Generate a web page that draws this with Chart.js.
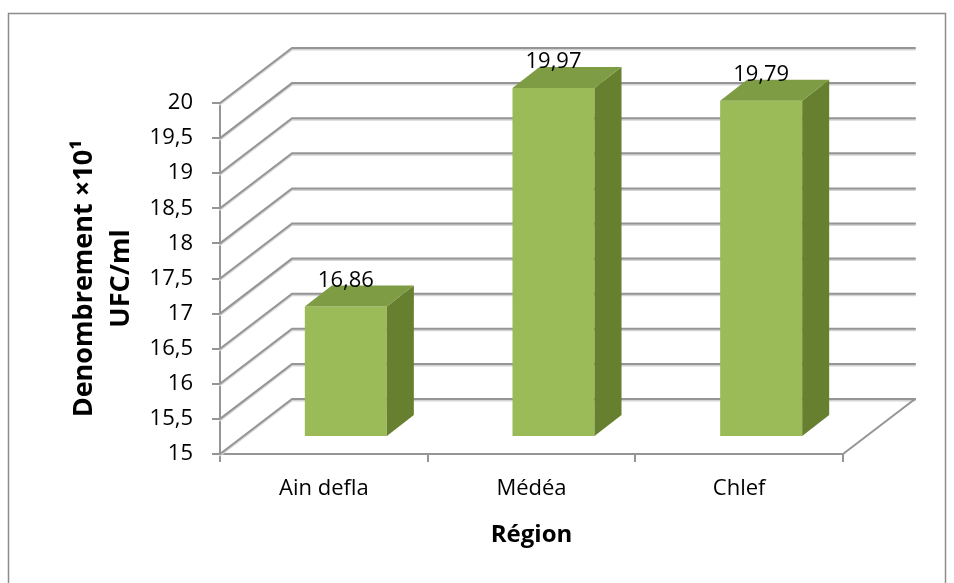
<!DOCTYPE html>
<html>
<head>
<meta charset="utf-8">
<script src="https://cdn.jsdelivr.net/npm/chart.js@4.4.1/dist/chart.umd.min.js"></script>
<style>
  html, body { margin: 0; padding: 0; background: #fff; }
  #chart { display: block; }
</style>
</head>
<body>
<canvas id="chart" width="954" height="583"></canvas>
<script>
const REGIONS = ["Ain defla", "Médéa", "Chlef"]
const COUNTS = [16.86, 19.97, 19.79]
const Y_MIN = 15
const Y_MAX = 20
const Y_STEP = 0.5

const FRONT = "#9bbb59" // olive green
const TOP = "#7e9c44"
const SIDE = "#66802f"
const GRID = "#959595"
const GRID_SHADOW = "#d4d4d4"

// oblique offsets for the fake 3d look
const BACK = { dx: 72, dy: -55 } // front plane -> back wall
const BAR_PLANE = { dx: 22, dy: -17 } // front plane -> bar front face
const BAR_DEPTH = { dx: 27, dy: -21 }

const comma = (v) => String(v).replace(".", ",")

const frame = {
  id: "frame",
  beforeDraw: (chart) => {
    const { ctx } = chart
    ctx.save()
    ctx.fillStyle = "#fff"
    ctx.fillRect(0, 0, chart.width, chart.height)
    ctx.strokeStyle = "#8c8c8c"
    ctx.lineWidth = 1.5
    ctx.strokeRect(8.5, 13.5, 937, 620)
    ctx.restore()
  },
}

const walls = {
  id: "walls",
  beforeDatasetsDraw: (chart) => {
    const { ctx, chartArea } = chart
    const y = chart.scales.y
    const { left, right, bottom } = chartArea

    const gridPath = (py, shift) => {
      ctx.beginPath()
      ctx.moveTo(left, py + shift)
      ctx.lineTo(left + BACK.dx, py + BACK.dy + shift)
      ctx.lineTo(right + BACK.dx, py + BACK.dy + shift)
      ctx.stroke()
    }

    ctx.save()
    ctx.lineCap = "round"
    ctx.lineWidth = 2

    for (let v = Y_MIN; v <= Y_MAX + 1e-9; v += Y_STEP) {
      const py = y.getPixelForValue(v)
      ctx.strokeStyle = GRID_SHADOW
      gridPath(py, 1.5)
      ctx.strokeStyle = GRID
      gridPath(py, 0)
    }

    // floor right edge
    ctx.strokeStyle = GRID
    ctx.beginPath()
    ctx.moveTo(right, bottom)
    ctx.lineTo(right + BACK.dx, bottom + BACK.dy)
    ctx.stroke()
    ctx.restore()

    // bars live a bit behind the front plane
    ctx.save()
    ctx.translate(BAR_PLANE.dx, BAR_PLANE.dy)
  },
  afterDatasetsDraw: (chart) => {
    const { ctx } = chart
    const meta = chart.getDatasetMeta(0)

    meta.data.forEach((bar, i) => {
      const half = bar.width / 2
      const l = bar.x - half
      const r = bar.x + half
      const t = bar.y
      const b = bar.base
      const { dx, dy } = BAR_DEPTH

      ctx.fillStyle = SIDE
      ctx.beginPath()
      ctx.moveTo(r, t)
      ctx.lineTo(r + dx, t + dy)
      ctx.lineTo(r + dx, b + dy)
      ctx.lineTo(r, b)
      ctx.closePath()
      ctx.fill()

      ctx.fillStyle = TOP
      ctx.beginPath()
      ctx.moveTo(l, t)
      ctx.lineTo(l + dx, t + dy)
      ctx.lineTo(r + dx, t + dy)
      ctx.lineTo(r, t)
      ctx.closePath()
      ctx.fill()

      ctx.fillStyle = "#000"
      ctx.font = "22px 'Open Sans'"
      ctx.textAlign = "center"
      ctx.textBaseline = "middle"
      ctx.fillText(comma(COUNTS[i]), bar.x, t + dy - 5)
    })

    ctx.restore()
  },
}

new Chart(document.getElementById("chart"), {
  type: "bar",
  data: {
    labels: REGIONS,
    datasets: [
      {
        data: COUNTS,
        base: Y_MIN,
        backgroundColor: FRONT,
        borderWidth: 0,
        barPercentage: 0.395,
        categoryPercentage: 1.0,
        clip: false,
      },
    ],
  },
  options: {
    animation: false,
    responsive: false,
    layout: {
      padding: { top: 103, right: 111, left: 0, bottom: 0 },
    },
    plugins: {
      legend: { display: false },
      tooltip: { enabled: false },
    },
    scales: {
      x: {
        afterFit: (scale) => {
          scale.height = 129
        },
        grid: {
          drawOnChartArea: false,
          color: GRID,
          lineWidth: 2,
          tickLength: 8,
        },
        border: { color: GRID, width: 2 },
        ticks: {
          color: "#000",
          padding: 14,
          maxRotation: 0,
          font: { family: "'Open Sans'", size: 22 },
        },
        title: {
          display: true,
          text: "Région",
          color: "#000",
          font: { family: "'Open Sans'", size: 24, weight: "bold" },
          padding: { top: 0, bottom: 33 },
        },
      },
      y: {
        min: Y_MIN,
        max: Y_MAX,
        afterFit: (scale) => {
          scale.width = 220
        },
        grid: {
          drawOnChartArea: false,
          color: GRID,
          lineWidth: 2,
          tickLength: 8,
        },
        border: { color: GRID, width: 2 },
        ticks: {
          stepSize: Y_STEP,
          color: "#000",
          padding: 19,
          font: { family: "'Open Sans'", size: 22 },
          callback: (value) => comma(value),
        },
        title: {
          display: true,
          text: ["Denombrement ×10¹", "UFC/ml"],
          color: "#000",
          font: { family: "'Open Sans'", size: 27, weight: "bold", lineHeight: 1.37 },
          padding: { top: 66, bottom: 0 },
        },
      },
    },
  },
  plugins: [frame, walls],
})
</script>
</body>
</html>
